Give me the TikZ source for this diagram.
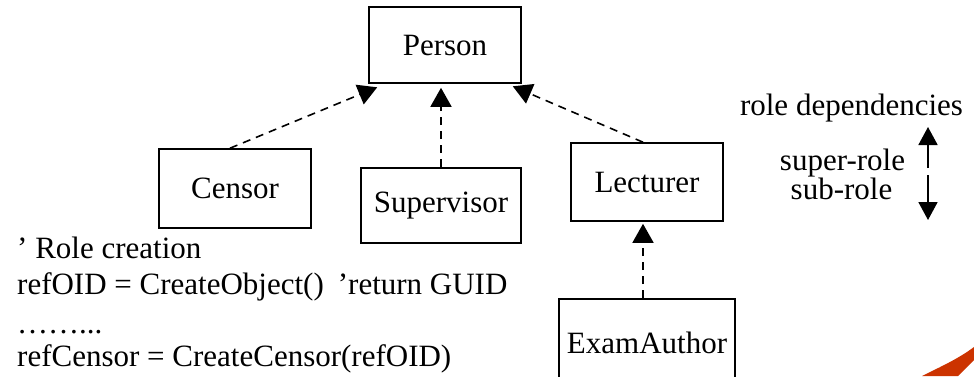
\documentclass[tikz,border=0pt]{standalone}
\usepackage{fontspec}
\setmainfont{Liberation Serif}
\usetikzlibrary{arrows.meta,calc}
\definecolor{swoosh}{HTML}{CC3300}
\begin{document}
\begin{tikzpicture}[x=1pt,y=-1pt,
  role/.style={draw, line width=1.6pt, rectangle, inner sep=0pt, font=\fontsize{31}{36}\selectfont},
  dep/.style={line width=1.6pt, dash pattern=on 8pt off 6pt, -{Triangle[length=19pt,width=21pt]}},
  legendarrow/.style={line width=1.8pt, -{Triangle[length=18pt,width=19pt]}},
  code/.style={anchor=base west, inner sep=0pt, font=\fontsize{31}{36}\selectfont},
  lbl/.style={anchor=base, inner sep=0pt, font=\fontsize{31}{36}\selectfont}]
\useasboundingbox (0,0) rectangle (974,376);
\fill[white] (0,0) rectangle (974,376);

% role boxes
\node[role, minimum width=152pt, minimum height=76pt] (person) at (445,45) {Person};
\node[role, minimum width=152pt, minimum height=79pt] (censor) at (235,188.5) {Censor};
\node[role, minimum width=160pt, minimum height=75pt] (supervisor) at (441,205.5) {Supervisor};
\node[role, minimum width=152pt, minimum height=78pt] (lecturer) at (647,182) {Lecturer};
\node[role, minimum width=176pt, minimum height=88pt] (examauthor) at (647,343) {ExamAuthor};

% dependencies
\draw[dep] ($(censor.north)+(-5,0)$) -- ($(person.south west)+(9,3.5)$);
\draw[dep] (supervisor.north) -- ($(supervisor.north |- person.south)+(0,4)$);
\draw[dep] ($(lecturer.north)+(-4,0)$) -- ($(person.south east)+(-9,2.5)$);
\draw[dep] ($(examauthor.north)+(-4,0)$) -- ($(examauthor.north |- lecturer.south)+(-4,2)$);

% legend
\node[lbl] (rdep) at (851.5,115) {role dependencies};
\node[lbl] (super) at (842.5,170) {super-role};
\node[lbl] (sub) at (841.5,199) {sub-role};
\coordinate (upfrom) at (928,168);
\coordinate (upto) at (928,127);
\coordinate (downfrom) at (928,175);
\coordinate (downto) at (928,220);
\draw[legendarrow] (upfrom) -- (upto);
\draw[legendarrow] (downfrom) -- (downto);

% code
\node[code] (c1) at (17,258) {’ Role creation};
\node[code] (c2) at (17,294) {refOID = CreateObject()\hspace{14pt}’return GUID};
\node[code] (c3) at (17,333) {……...};
\node[code] (c4) at (17,366) {refCensor = CreateCensor(refOID)};

% swoosh
\fill[swoosh] (922,376) .. controls (940,367) and (958,359) .. (974,347)
  -- (974,360) .. controls (968,366) and (963,371) .. (958,376) -- cycle;
\end{tikzpicture}
\end{document}
